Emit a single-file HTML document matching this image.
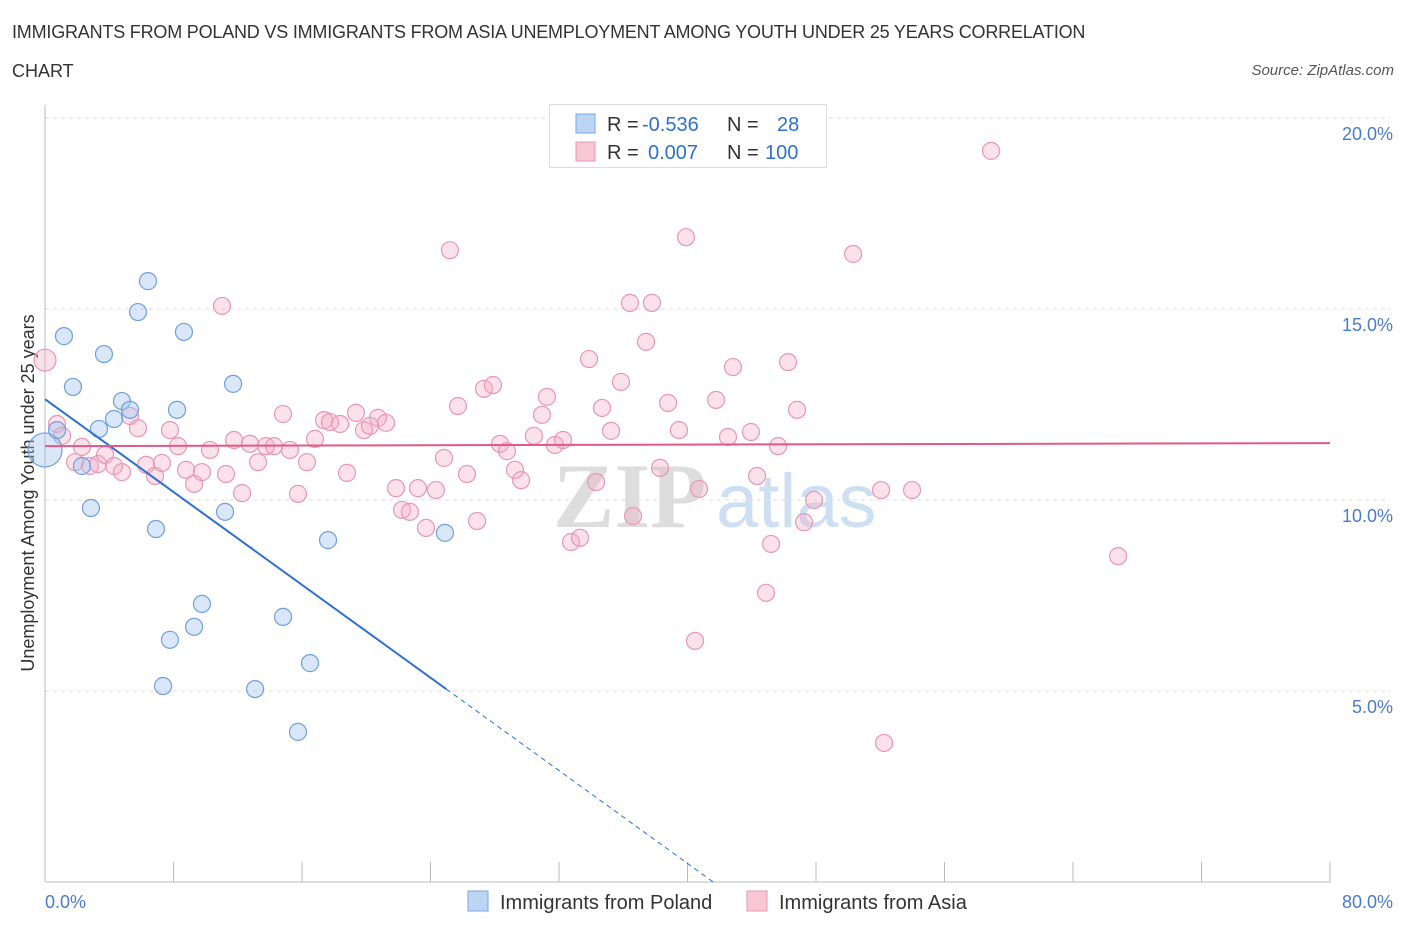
<!DOCTYPE html>
<html><head><meta charset="utf-8"><style>
body{margin:0;background:#fff;font-family:"Liberation Sans",sans-serif}
#wrap{position:relative;width:1406px;height:930px;overflow:hidden}
.t{position:absolute;color:#333;font-size:18px}
</style></head><body>
<div id="wrap">
<div class="t" style="left:12px;top:22px;letter-spacing:-0.2px">IMMIGRANTS FROM POLAND VS IMMIGRANTS FROM ASIA UNEMPLOYMENT AMONG YOUTH UNDER 25 YEARS CORRELATION</div>
<div class="t" style="left:12px;top:61px">CHART</div>
<div class="t" style="right:12px;top:62px;font-size:15px;font-style:italic;color:#555">Source: ZipAtlas.com</div>
<svg id="svg" width="1406" height="930" style="position:absolute;left:0;top:0"></svg>
</div>
<script>
const blueX=[0,0.75,1.18,1.74,2.30,2.86,3.36,3.67,4.30,4.79,5.29,5.79,6.41,6.91,7.35,7.78,8.22,8.65,9.28,9.77,11.21,11.71,13.08,14.82,15.75,16.50,17.62,24.9];
const blueY=[11.31,11.83,14.29,12.96,10.89,9.79,11.86,13.82,12.12,12.59,12.36,14.92,15.73,9.24,5.13,6.34,12.36,14.40,6.68,7.28,9.69,13.04,5.05,6.94,3.93,5.73,8.95,9.14];
const pinkX=[0,0.75,1.06,1.87,2.30,2.80,3.30,3.74,4.30,4.79,5.29,5.79,6.29,6.85,7.28,7.78,8.28,8.78,9.28,9.77,10.27,11.02,11.27,11.77,12.27,12.76,13.26,13.76,14.26,14.82,15.25,15.75,16.31,16.81,17.37,17.74,18.37,18.80,19.36,19.86,20.23,20.73,21.23,21.85,22.23,22.72,23.22,23.72,24.34,24.84,25.21,25.71,26.27,26.90,27.33,27.89,28.33,28.76,29.26,29.64,30.44,30.94,31.25,31.75,32.25,32.75,33.31,33.87,34.31,34.68,35.24,35.86,36.42,36.61,37.42,37.79,38.29,38.79,39.47,39.91,40.47,40.72,41.78,42.52,42.83,43.95,44.33,44.89,45.20,45.64,46.26,46.82,47.26,47.88,50.31,52.05,52.24,53.98,58.90,66.81];
const pinkY=[13.66,11.99,11.68,10.99,11.39,10.89,10.94,11.18,10.89,10.73,12.20,11.88,10.92,10.63,10.97,11.83,11.41,10.79,10.42,10.73,11.31,15.08,10.68,11.57,10.18,11.47,10.99,11.41,11.41,12.25,11.31,10.16,10.99,11.60,12.09,12.04,11.99,10.71,12.28,11.83,11.94,12.15,12.02,10.31,9.74,9.69,10.31,9.27,10.26,11.10,16.54,12.46,10.68,9.45,12.91,13.01,11.47,11.28,10.79,10.52,11.68,12.23,12.70,11.44,11.57,8.90,9.01,13.69,10.47,12.41,11.81,13.09,15.16,9.58,14.14,15.16,10.84,12.54,11.83,16.88,6.31,10.29,12.62,11.65,13.48,11.78,10.63,7.57,8.85,11.41,13.61,12.36,9.42,10.00,16.44,10.26,3.64,10.26,19.14,8.53];
const yTicks=[5,10,15,20];
const xTickLabels=["0.0%","80.0%"];
const blueTrend=[12.64,5.05,24.98];
const pinkTrend=[11.41,11.49];

const X0=45,X1=1330,Y0=882,Y1=118;
const sx=v=>X0+v/80*(X1-X0), sy=v=>Y0-v/20*(Y0-Y1);
const svg=document.getElementById('svg');const NS='http://www.w3.org/2000/svg';
function mk(tag,at,name,parent){const e=document.createElementNS(NS,tag);for(const k in at)e.setAttribute(k,at[k]);


(parent||svg).appendChild(e);return e;}
// watermark
let w=mk('text',{x:553,y:527,'font-size':92,'font-family':'Liberation Serif','fill':'#ddd','font-weight':'bold'},'watermark-zip');w.textContent='ZIP';
w=mk('text',{x:716,y:527,'font-size':76,'font-family':'Liberation Sans','fill':'#cfdff3'},'watermark-atlas');w.textContent='atlas';
// grid
yTicks.forEach(t=>{mk('line',{x1:X0,x2:1390,y1:sy(t),y2:sy(t),stroke:'#ddd','stroke-dasharray':'4,4'},'gridline');
const l=mk('text',{x:1393,y:sy(t)+22,'text-anchor':'end','font-size':18,fill:'#4a7bd0'},'y-tick-label');l.textContent=t.toFixed(1)+'%';});
mk('line',{x1:X0,x2:X0,y1:105,y2:Y0,stroke:'#bbb'},'y-axis');
mk('line',{x1:X0,x2:X1,y1:Y0,y2:Y0,stroke:'#bbb'},'x-axis');
for(let i=0;i<=10;i++)mk('line',{x1:sx(i*8),x2:sx(i*8),y1:862,y2:Y0,stroke:'#bbb'},'x-tick');
let t=mk('text',{x:45,y:908,'font-size':18,fill:'#4a7bd0'},'x-tick-label-min');t.textContent=xTickLabels[0];
t=mk('text',{x:1393,y:908,'text-anchor':'end','font-size':18,fill:'#4a7bd0'},'x-tick-label-max');t.textContent=xTickLabels[1];
t=mk('text',{x:0,y:0,'font-size':18,fill:'#333','text-anchor':'middle',transform:'translate(34,493) rotate(-90)'},'y-axis-title');t.textContent='Unemployment Among Youth under 25 years';
// points
pinkX.forEach((x,i)=>mk('circle',{cx:sx(x),cy:sy(pinkY[i]),r:i==0?11:8.5,fill:'rgba(244,170,195,0.35)',stroke:'#e897b2','stroke-width':1.2},'asia-point'));
blueX.forEach((x,i)=>mk('circle',{cx:sx(x),cy:sy(blueY[i]),r:i==0?17:8.5,fill:'rgba(160,195,240,0.4)',stroke:'#6f9fdf','stroke-width':1.2},'poland-point'));
// trends
const slope=(blueTrend[1]-blueTrend[0])/blueTrend[2];const x0=-blueTrend[0]/slope;
mk('line',{x1:sx(0),y1:sy(blueTrend[0]),x2:sx(blueTrend[2]),y2:sy(blueTrend[1]),stroke:'#2d6fd6','stroke-width':2},'poland-trend-line');
mk('line',{x1:sx(blueTrend[2]),y1:sy(blueTrend[1]),x2:sx(x0),y2:sy(0),stroke:'#2d6fd6','stroke-width':1,'stroke-dasharray':'5,4'},'poland-trend-extension');
mk('line',{x1:sx(0),y1:sy(pinkTrend[0]),x2:sx(80),y2:sy(pinkTrend[1]),stroke:'#e05a85','stroke-width':2},'asia-trend-line');
// legend box
mk('rect',{x:549.5,y:104.5,width:277,height:63,fill:'#fff',stroke:'#ddd'},'stats-legend');
mk('rect',{x:576,y:114,width:19,height:19,fill:'#bcd5f5',stroke:'#7aa7e0'},'stats-swatch-poland');
mk('rect',{x:576,y:142,width:19,height:19,fill:'#f9c6d6',stroke:'#e897b2'},'stats-swatch-asia');
function txt(x,y,s,c,n){const e=mk('text',{x:x,y:y,'font-size':20,fill:c},n);e.textContent=s;}
txt(607,131,'R =','#333','r-label');txt(642,131,'-0.536','#2d6fd6','r-value-poland');txt(727,131,'N =','#333','n-label');txt(777,131,'28','#2d6fd6','n-value-poland');
txt(607,159,'R =','#333','r-label');txt(648,159,'0.007','#2d6fd6','r-value-asia');txt(727,159,'N =','#333','n-label');txt(765,159,'100','#2d6fd6','n-value-asia');
// bottom legend
mk('rect',{x:468,y:891,width:20,height:20,fill:'#bcd5f5',stroke:'#7aa7e0'},'legend-swatch-poland');
txt(500,909,'Immigrants from Poland','#333','legend-entry-poland');
mk('rect',{x:747,y:891,width:20,height:20,fill:'#f9c6d6',stroke:'#e897b2'},'legend-swatch-asia');
txt(779,909,'Immigrants from Asia','#333','legend-entry-asia');
</script>
</body></html>
